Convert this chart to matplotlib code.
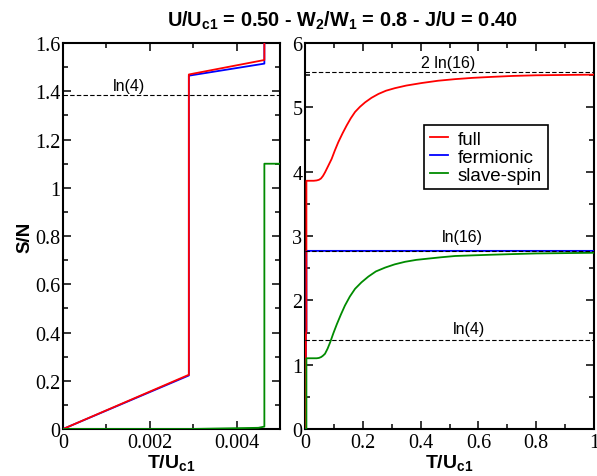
"""Entropy S/N vs T/Uc1: low-T zoom (left) and full range (right)."""

import numpy as np
import matplotlib.pyplot as plt
from matplotlib.ticker import MultipleLocator, FormatStrFormatter

plt.rcParams["font.family"] = ["Liberation Sans", "DejaVu Sans"]
plt.rcParams["mathtext.fontset"] = "custom"
plt.rcParams["mathtext.rm"] = "Liberation Sans:bold"
plt.rcParams["mathtext.it"] = "Liberation Sans:bold"
plt.rcParams["mathtext.bf"] = "Liberation Sans:bold"

# ---- data ----
full_T = [0, 0.0029, 0.0029, 0.00464, 0.00464, 0.01, 0.03, 0.04, 0.048, 0.055,
          0.062, 0.069, 0.08, 0.092, 0.103, 0.115, 0.13, 0.144, 0.158, 0.173,
          0.19, 0.208, 0.23, 0.254, 0.28, 0.311, 0.35, 0.404, 0.46, 0.519,
          0.58, 0.646, 0.72, 0.8, 0.9, 1.0]
full_S = [0, 0.225, 1.47, 1.53, 3.86, 3.86, 3.86, 3.865, 3.875, 3.895,
          3.935, 3.99, 4.09, 4.20, 4.33, 4.46, 4.60, 4.72, 4.83, 4.93,
          5.01, 5.08, 5.15, 5.21, 5.26, 5.30, 5.34, 5.38, 5.415, 5.44,
          5.46, 5.475, 5.49, 5.50, 5.505, 5.51]

ferm_T = [0, 0.0029, 0.0029, 0.00464, 0.00464, 1.0]
ferm_S = [0, 0.222, 1.465, 1.515, 2.77, 2.77]

slave_T = [0, 0.0029, 0.0045, 0.00464, 0.00464, 0.01, 0.03, 0.04, 0.048, 0.056,
           0.062, 0.069, 0.078, 0.087, 0.098, 0.11, 0.124, 0.138, 0.155, 0.173,
           0.195, 0.219, 0.245, 0.277, 0.31, 0.346, 0.385, 0.427, 0.47, 0.519,
           0.58, 0.646, 0.72, 0.8, 0.9, 1.0]
slave_S = [0, 0.0, 0.005, 0.01, 1.10, 1.10, 1.10, 1.10, 1.105, 1.12,
           1.14, 1.17, 1.25, 1.35, 1.49, 1.63, 1.78, 1.92, 2.06, 2.18,
           2.28, 2.37, 2.45, 2.51, 2.56, 2.60, 2.63, 2.65, 2.67, 2.69,
           2.70, 2.71, 2.72, 2.73, 2.735, 2.74]

ref_left = [(np.log(4), "ln(4)", 0.00153, 1.426)]
ref_right = [(2 * np.log(16), "2 ln(16)", 0.495, 5.70),
             (np.log(16), "ln(16)", 0.546, 2.99),
             (np.log(4), "ln(4)", 0.567, 1.57)]

RED, BLUE, GREEN = "#ff0000", "#0000ff", "#008b00"
LW = 1.3


def style_axis(ax, xmaj, xmin, ymaj, ymin, xfmt, yfmt):
    ax.xaxis.set_major_locator(MultipleLocator(xmaj))
    ax.xaxis.set_minor_locator(MultipleLocator(xmin))
    ax.yaxis.set_major_locator(MultipleLocator(ymaj))
    ax.yaxis.set_minor_locator(MultipleLocator(ymin))
    ax.xaxis.set_major_formatter(FormatStrFormatter(xfmt))
    ax.yaxis.set_major_formatter(FormatStrFormatter(yfmt))
    ax.tick_params(which="both", direction="in", top=True, right=True, width=1.1)
    ax.tick_params(which="major", length=6)
    ax.tick_params(which="minor", length=3.5)
    ax.tick_params(axis="x", pad=3)
    ax.tick_params(axis="y", pad=2)
    for lab in ax.get_xticklabels() + ax.get_yticklabels():
        lab.set_fontfamily("Liberation Serif")
        lab.set_fontsize(14.5)
    for sp in ax.spines.values():
        sp.set_linewidth(1.5)


fig = plt.figure(figsize=(5.97, 4.77), dpi=100)
ax1 = fig.add_axes([0.1055, 0.0985, 0.3635, 0.809])
ax2 = fig.add_axes([0.511, 0.0985, 0.484, 0.809])

# ---- left: low temperature ----
ax1.plot(ferm_T, ferm_S, color=BLUE, lw=LW, zorder=3)
ax1.plot(full_T, full_S, color=RED, lw=LW, zorder=4)
ax1.plot(slave_T, slave_S, color=GREEN, lw=LW, zorder=5)
for val, txt, tx, ty in ref_left:
    ax1.axhline(val, color="black", lw=0.8, ls=(0, (4, 2)), zorder=2)
    ax1.text(tx, ty, txt, ha="center", va="center", fontsize=11.5)
ax1.set_xlim(0, 0.005)
ax1.set_ylim(0, 1.6)
style_axis(ax1, 0.002, 0.001, 0.2, 0.1, "%g", "%g")
ax1.set_xlabel(r"T/U$_\mathrm{c1}$", fontsize=14, fontweight="bold", labelpad=0)
ax1.set_ylabel("S/N", fontsize=13.5, fontweight="bold", labelpad=1)

# ---- right: full range ----
h_full, = ax2.plot(full_T, full_S, color=RED, lw=LW, zorder=4)
h_ferm, = ax2.plot(ferm_T, ferm_S, color=BLUE, lw=LW, zorder=3)
h_slave, = ax2.plot(slave_T, slave_S, color=GREEN, lw=LW, zorder=5)
for val, txt, tx, ty in ref_right:
    ax2.axhline(val, color="black", lw=0.8, ls=(0, (4, 2)), zorder=6)
    ax2.text(tx, ty, txt, ha="center", va="center", fontsize=11.5)
ax2.set_xlim(0, 1)
ax2.set_ylim(0, 6)
style_axis(ax2, 0.2, 0.1, 1, 0.5, "%g", "%g")
ax2.set_xlabel(r"T/U$_\mathrm{c1}$", fontsize=14, fontweight="bold", labelpad=0)

leg = ax2.legend([h_full, h_ferm, h_slave], ["full", "fermionic", "slave-spin"],
                 loc="upper left", bbox_to_anchor=(0.412, 0.788), borderaxespad=0,
                 fontsize=13.5, handlelength=1.0, handletextpad=0.5,
                 labelspacing=0.05, borderpad=0.3, fancybox=False, framealpha=1)
leg.get_frame().set_edgecolor("black")
leg.get_frame().set_linewidth(1.2)

fig.text(0.573, 0.943,
         r"U/U$_\mathrm{c1}$ = 0.50 - W$_\mathrm{2}$/W$_\mathrm{1}$ = 0.8 - J/U = 0.40",
         ha="center", va="baseline", fontsize=14.3, fontweight="bold")

fig.savefig("out.png", dpi=100)
